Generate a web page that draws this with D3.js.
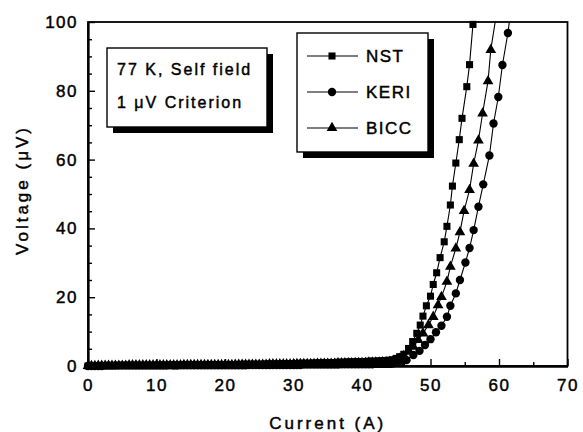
<!DOCTYPE html>
<html>
<head>
<meta charset="utf-8">
<script src="https://cdn.jsdelivr.net/npm/d3@7"></script>
<style>
  body { margin: 0; background: #fff; }
  text { font-family: "Liberation Sans", Arial, sans-serif; fill: #000; stroke: #000; stroke-width: 0.45px; }
</style>
</head>
<body>
<script>
// baseline current steps (A), shared by all three samples
let baseCurrent = [
  0,0.5,1,1.5,2,2.5,3,3.5,4,4.5,
  5,5.5,6,6.5,7,7.5,8,8.5,9,9.5,
  10,10.5,11,11.5,12,12.5,13,13.5,14,14.5,
  15,15.5,16,16.5,17,17.5,18,18.5,19,19.5,
  20,20.5,21,21.5,22,22.5,23,23.5,24,24.5,
  25,25.5,26,26.5,27,27.5,28,28.5,29,29.5,
  30,30.5,31,31.5,32,32.5,33,33.5,34,34.5,
  35,35.5,36,36.5,37,37.5,38,38.5,39,39.5,
  40,40.5,41,41.5,42,42.5,43,43.5,44
]

// voltages (uV) on the baseline
let nstBaseV = [
  0.0,0.0,0.1,0.1,0.1,0.1,0.1,0.1,0.1,0.2,
  0.2,0.2,0.2,0.2,0.2,0.2,0.2,0.2,0.2,0.2,
  0.2,0.3,0.2,0.2,0.3,0.3,0.3,0.3,0.3,0.3,
  0.3,0.3,0.3,0.3,0.3,0.3,0.4,0.4,0.4,0.4,
  0.4,0.4,0.4,0.4,0.4,0.5,0.5,0.5,0.5,0.5,
  0.5,0.5,0.6,0.6,0.6,0.6,0.6,0.7,0.7,0.7,
  0.7,0.7,0.8,0.8,0.8,0.8,0.9,0.9,0.9,1.0,
  1.0,1.0,1.0,1.1,1.1,1.1,1.2,1.2,1.2,1.3,
  1.3,1.3,1.4,1.4,1.4,1.5,1.5,1.6,1.7
]
let keriBaseV = [
  0.0,0.0,0.0,0.0,0.0,0.1,0.1,0.1,0.1,0.1,
  0.1,0.1,0.1,0.1,0.1,0.1,0.1,0.1,0.1,0.1,
  0.1,0.1,0.1,0.1,0.2,0.1,0.1,0.2,0.2,0.2,
  0.2,0.2,0.2,0.2,0.2,0.2,0.2,0.2,0.2,0.2,
  0.2,0.2,0.2,0.2,0.2,0.2,0.2,0.3,0.3,0.3,
  0.3,0.3,0.3,0.3,0.3,0.3,0.3,0.3,0.3,0.3,
  0.3,0.3,0.3,0.4,0.4,0.4,0.4,0.4,0.4,0.4,
  0.4,0.4,0.4,0.4,0.5,0.5,0.5,0.5,0.5,0.5,
  0.5,0.5,0.5,0.5,0.6,0.6,0.6,0.6,0.6
]
let biccBaseV = [
  0.0,0.0,0.0,0.1,0.1,0.1,0.1,0.1,0.1,0.1,
  0.1,0.1,0.2,0.2,0.2,0.2,0.2,0.2,0.2,0.2,
  0.2,0.2,0.2,0.2,0.2,0.2,0.2,0.2,0.3,0.3,
  0.3,0.3,0.3,0.3,0.3,0.3,0.3,0.3,0.3,0.3,
  0.3,0.3,0.3,0.4,0.4,0.4,0.4,0.4,0.4,0.4,
  0.4,0.4,0.4,0.5,0.5,0.5,0.5,0.5,0.5,0.5,
  0.5,0.6,0.6,0.6,0.6,0.6,0.6,0.7,0.7,0.7,
  0.7,0.7,0.7,0.8,0.8,0.8,0.8,0.8,0.9,0.9,
  0.9,0.9,1.0,1.0,1.0,1.0,1.1,1.1,1.2
]

// transition part
let nstRiseI = [44.5,45,45.5,46.1,46.8,47.4,48,48.5,48.9,49.4,50,50.4,50.9,51.4,52,52.4,52.9,53.2,53.7,54.2,54.6,55.3,55.7,56.2,56.6]
let nstRiseV = [1.8,2.2,2.7,3.4,5.1,7.1,9.5,11.9,14.5,17.5,20.3,23.7,27.1,31.5,36.1,40.6,46.8,52.3,59.0,65.8,72.0,81.2,87.6,99.3,112]

let keriRiseI = [44.5,45.1,45.8,46.5,47.5,48.4,49.2,50,50.8,51.6,52.4,52.9,53.7,54.3,55.1,55.7,56.3,57,57.7,58.6,59.2,59.9,60.5,61.3,61.9]
let keriRiseV = [0.7,0.9,1.1,1.7,3.2,4.4,6.1,7.8,9.8,11.7,14.3,17.5,21.1,25.0,30.1,34.3,39.5,46.3,52.8,61.2,70.5,78.2,87.5,96.8,106]

let biccRiseI = [44.5,45,45.5,46.1,46.8,47.5,48.2,48.9,49.7,50.4,51.1,51.6,52.4,52.9,53.7,54.3,54.9,55.7,56.3,57,57.6,58.4,58.8,59.6]
let biccRiseV = [1.3,1.6,2.1,2.9,4.2,5.6,7.6,9.5,11.9,14.3,17.7,20.1,24.5,28.9,34.2,38.9,45.1,51.2,58.8,65.6,73.4,82.8,91.9,102]

let seriesNames = ["NST", "KERI", "BICC"]
let xTicks = [0, 10, 20, 30, 40, 50, 60, 70]
let yTicks = [0, 20, 40, 60, 80, 100]
let noteLines = ["77 K, Self field", "1 \u03bcV Criterion"]

let width = 583
let height = 432
let padding = {left: 88, right: 15.5, top: 22, bottom: 66}

let svg = d3.select("body")
    .append("svg")
    .attr("width", width)
    .attr("height", height)

let xScale = d3.scaleLinear()
    .domain([0, 70])
    .range([padding.left, width - padding.right])

let yScale = d3.scaleLinear()
    .domain([0, 100])
    .range([height - padding.bottom, padding.top])

function join(baseV, riseI, riseV) {
    let pts = baseCurrent.map(function(c, i) { return [c, baseV[i]] })
    riseI.forEach(function(c, i) { pts.push([c, riseV[i]]) })
    return pts
}

let series = [
    {name: seriesNames[0], symbol: d3.symbolSquare, size: 50, pts: join(nstBaseV, nstRiseI, nstRiseV)},
    {name: seriesNames[1], symbol: d3.symbolCircle, size: 55, pts: join(keriBaseV, keriRiseI, keriRiseV)},
    {name: seriesNames[2], symbol: d3.symbolTriangle, size: 50, pts: join(biccBaseV, biccRiseI, biccRiseV)}
]

// clip
svg.append("clipPath").attr("id", "plotClip")
    .append("rect")
    .attr("x", xScale(0))
    .attr("y", yScale(100))
    .attr("width", xScale(70) - xScale(0))
    .attr("height", yScale(0) - yScale(100))

let line = d3.line()
    .x(function(d) { return xScale(d[0]) })
    .y(function(d) { return yScale(d[1]) })

let plot = svg.append("g").attr("clip-path", "url(#plotClip)")

series.forEach(function(s) {
    plot.append("path")
        .datum(s.pts)
        .attr("fill", "none")
        .attr("stroke", "#000")
        .attr("stroke-width", 1.1)
        .attr("d", line)
})

series.forEach(function(s) {
    svg.append("g").selectAll("path")
        .data(s.pts.filter(function(d) { return d[1] <= 100 }))
        .enter()
        .append("path")
        .attr("transform", function(d) { return "translate(" + xScale(d[0]) + "," + yScale(d[1]) + ")" })
        .attr("d", d3.symbol().type(s.symbol).size(s.size))
        .attr("fill", "#000")
})

// axes (inward ticks)
let xAxis = d3.axisBottom(xScale).tickValues(xTicks).tickSize(-7).tickSizeOuter(0).tickPadding(13)
let xMinor = d3.axisBottom(xScale).tickValues([5, 15, 25, 35, 45, 55, 65]).tickSize(-4).tickSizeOuter(0).tickFormat("")
let yAxis = d3.axisLeft(yScale).tickValues(yTicks).tickSize(-7).tickSizeOuter(0).tickPadding(10)
let yMinor = d3.axisLeft(yScale).tickValues([5, 10, 15, 25, 30, 35, 45, 50, 55, 65, 70, 75, 85, 90, 95]).tickSize(-4).tickSizeOuter(0).tickFormat("")

svg.append("g").attr("transform", "translate(0," + yScale(0) + ")").call(xMinor)
svg.append("g").attr("class", "axis").attr("transform", "translate(0," + yScale(0) + ")").call(xAxis)
svg.append("g").attr("transform", "translate(" + xScale(0) + ",0)").call(yMinor)
svg.append("g").attr("class", "axis").attr("transform", "translate(" + xScale(0) + ",0)").call(yAxis)

svg.selectAll(".tick line").attr("stroke", "#000").attr("stroke-width", 1.4)
svg.selectAll(".domain").attr("stroke", "#000").attr("stroke-width", 1.8)
svg.selectAll(".axis text")
    .attr("font-family", "Liberation Sans, Arial, sans-serif")
    .attr("font-size", 17)
    .attr("letter-spacing", 1.5)
    .attr("fill", "#000")

// frame
svg.append("rect")
    .attr("x", xScale(0))
    .attr("y", yScale(100))
    .attr("width", xScale(70) - xScale(0))
    .attr("height", yScale(0) - yScale(100))
    .attr("fill", "none")
    .attr("stroke", "#000")
    .attr("stroke-width", 1.8)

// axis titles
svg.append("text")
    .attr("x", (xScale(0) + xScale(70)) / 2)
    .attr("y", 429)
    .attr("text-anchor", "middle")
    .attr("font-size", 17)
    .attr("letter-spacing", 3)
    .text("Current (A)")

svg.append("text")
    .attr("transform", "translate(22," + (yScale(50) - 4) + ") rotate(-90)")
    .attr("text-anchor", "middle")
    .attr("dy", "0.35em")
    .attr("font-size", 17)
    .attr("letter-spacing", 3)
    .text("Voltage (\u03bcV)")

// boxes with drop shadow
function shadowBox(x, y, w, h) {
    svg.append("rect").attr("x", x + 6).attr("y", y + 6).attr("width", w).attr("height", h).attr("fill", "#000")
    svg.append("rect").attr("x", x).attr("y", y).attr("width", w).attr("height", h)
        .attr("fill", "#fff").attr("stroke", "#000").attr("stroke-width", 1.4)
}

shadowBox(107, 48, 160, 79)
noteLines.forEach(function(t, i) {
    svg.append("text")
        .attr("x", 117)
        .attr("y", 75 + i * 33)
        .attr("font-size", 16)
        .attr("letter-spacing", 2)
        .text(t)
})

shadowBox(297, 33, 131, 119)
series.forEach(function(s, i) {
    let ly = 56 + i * 36
    svg.append("line")
        .attr("x1", 307).attr("x2", 358)
        .attr("y1", ly).attr("y2", ly)
        .attr("stroke", "#000").attr("stroke-width", 1.1)
    svg.append("path")
        .attr("transform", "translate(332," + ly + ")")
        .attr("d", d3.symbol().type(s.symbol).size(s.size))
        .attr("fill", "#000")
    svg.append("text")
        .attr("x", 366)
        .attr("y", ly)
        .attr("dy", "0.36em")
        .attr("font-size", 17)
        .attr("letter-spacing", 1.5)
        .text(s.name)
})
</script>
</body>
</html>
